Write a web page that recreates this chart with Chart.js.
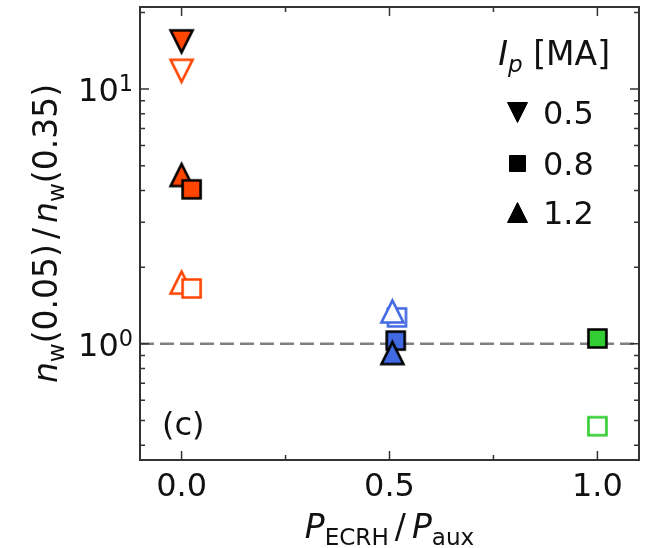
<!DOCTYPE html>
<html lang="en">
<head>
<meta charset="UTF-8">
<title>n_w ratio vs ECRH fraction</title>
<script src="https://cdn.jsdelivr.net/npm/chart.js"></script>
<style>
  html, body { margin: 0; padding: 0; background: #fff; }
  #wrap { width: 646px; height: 548px; }
</style>
</head>
<body>
<div id="wrap"><canvas id="ratioChart" width="646" height="548"></canvas></div>
<script>
// one entry per plotted point, later entries are drawn on top
const pEcrhFrac = [0.0, 0.0, 0.0, 0.024, 0.0, 0.024, 0.518, 0.507, 0.515, 0.507, 1.0, 1.0];
const nwRatio   = [15.4, 11.8, 4.6, 4.04, 1.74, 1.65, 1.27, 1.34, 1.03, 0.92, 1.05, 0.475];
const ipMA      = [0.5, 0.5, 1.2, 0.8, 1.2, 0.8, 0.8, 1.2, 0.8, 1.2, 0.8, 0.8];
const isFilled  = [true, false, true, true, false, false, false, false, true, true, true, false];

const ipLegend    = ['0.5', '0.8', '1.2'];
const xTicks      = [0.0, 0.5, 1.0];
const xTickLabels = ['0.0', '0.5', '1.0'];
const xMinorTicks = [0.25, 0.75];
const yTicks      = [1, 10];
const yTickExps   = ['0', '1'];

const FONT = '"DejaVu Sans"';
const EDGE = '#333';

function groupColor(f) {
    if (f < 0.25) return '#ff4500';
    if (f < 0.75) return '#4169e1';
    return '#32cd32';
}
function shapeFor(ip) {
    if (ip === 0.5) return 'down';
    if (ip === 0.8) return 'square';
    return 'up';
}

// small canvas used as a point style (matplotlib-like markers)
function makeMarker(shape, fill, stroke, half, lw) {
    const pad = 6;
    const size = Math.ceil(2 * half + lw + 2 * pad);
    const c = document.createElement('canvas');
    c.width = size; c.height = size;
    const g = c.getContext('2d');
    const m = size / 2;
    g.beginPath();
    if (shape === 'square') {
        g.rect(m - half, m - half, 2 * half, 2 * half);
    } else if (shape === 'up') {
        g.moveTo(m, m - half); g.lineTo(m + half, m + half); g.lineTo(m - half, m + half); g.closePath();
    } else {
        g.moveTo(m, m + half); g.lineTo(m + half, m - half); g.lineTo(m - half, m - half); g.closePath();
    }
    g.fillStyle = fill; g.fill();
    if (lw > 0) {
        g.lineJoin = 'miter'; g.lineWidth = lw; g.strokeStyle = stroke; g.stroke();
    }
    return c;
}

function fontOf(s, size) {
    const sz = (s.sub || s.sup) ? size * 0.7 : size;
    return (s.it ? 'italic ' : '') + sz.toFixed(1) + 'px ' + FONT;
}
function drawRich(ctx, segs, x, y, size, align) {
    ctx.textAlign = 'left';
    ctx.textBaseline = 'alphabetic';
    let w = 0;
    segs.forEach(s => {
        if (s.gap) { w += s.gap; return; }
        ctx.font = fontOf(s, size); w += ctx.measureText(s.t).width;
    });
    let cx = align === 'center' ? x - w / 2 : align === 'right' ? x - w : x;
    segs.forEach(s => {
        if (s.gap) { cx += s.gap; return; }
        ctx.font = fontOf(s, size);
        const dy = s.sub ? size * 0.2 : s.sup ? -size * 0.3 : 0;
        ctx.fillText(s.t, cx, y + dy);
        cx += ctx.measureText(s.t).width;
    });
}

const datasets = pEcrhFrac.map((f, i) => {
    const col = groupColor(f);
    const shape = shapeFor(ipMA[i]);
    const half = shape === 'square' ? 9 : 11;
    const style = isFilled[i]
        ? makeMarker(shape, col, '#000', half, 2.6)
        : makeMarker(shape, '#fff', col, half, 2.6);
    return {
        type: 'scatter',
        data: [{ x: f, y: nwRatio[i] }],
        pointStyle: style,
        pointRadius: 10,
        order: pEcrhFrac.length - i
    };
});

// reference line at ratio = 1
datasets.push({
    type: 'line',
    data: [{ x: -0.1, y: 1 }, { x: 1.1, y: 1 }],
    borderColor: '#808080',
    borderWidth: 2.5,
    borderDash: [14, 6],
    pointRadius: 0,
    order: 100
});

const decorations = {
    id: 'decorations',
    afterDraw(chart) {
        const { ctx, chartArea: a, scales: { x, y } } = chart;
        ctx.save();

        // inward ticks on all sides
        ctx.strokeStyle = EDGE;
        ctx.lineWidth = 1.5;
        const vTick = (px, len) => {
            ctx.beginPath();
            ctx.moveTo(px, a.bottom); ctx.lineTo(px, a.bottom - len);
            ctx.moveTo(px, a.top); ctx.lineTo(px, a.top + len);
            ctx.stroke();
        };
        const hTick = (py, len) => {
            ctx.beginPath();
            ctx.moveTo(a.left, py); ctx.lineTo(a.left + len, py);
            ctx.moveTo(a.right, py); ctx.lineTo(a.right - len, py);
            ctx.stroke();
        };
        xTicks.forEach(v => vTick(x.getPixelForValue(v), 9));
        xMinorTicks.forEach(v => vTick(x.getPixelForValue(v), 5));
        yTicks.forEach(v => hTick(y.getPixelForValue(v), 9));
        for (let e = -1; e <= 1; e++) {
            for (let m = 2; m <= 9; m++) {
                const v = m * Math.pow(10, e);
                if (v > y.min && v < y.max) hTick(y.getPixelForValue(v), 5);
            }
        }

        // frame
        ctx.lineWidth = 2;
        ctx.strokeRect(a.left, a.top, a.right - a.left, a.bottom - a.top);

        ctx.fillStyle = '#111';
        // x tick labels
        xTicks.forEach((v, i) => {
            drawRich(ctx, [{ t: xTickLabels[i] }], x.getPixelForValue(v), a.bottom + 36, 32, 'center');
        });
        // y tick labels
        yTicks.forEach((v, i) => {
            drawRich(ctx, [{ t: '10' }, { t: yTickExps[i], sup: true }], a.left - 7, y.getPixelForValue(v) + 12, 32, 'right');
        });

        // axis titles
        drawRich(ctx, [
            { t: 'P', it: true }, { t: 'ECRH', sub: true }, { gap: 6 }, { t: '/' }, { gap: 6 },
            { t: 'P', it: true }, { t: 'aux', sub: true }
        ], (a.left + a.right) / 2, 538, 33, 'center');

        ctx.save();
        ctx.translate(57, (a.top + a.bottom) / 2);
        ctx.rotate(-Math.PI / 2);
        drawRich(ctx, [
            { t: 'n', it: true }, { t: 'w', sub: true }, { t: '(0.05)' }, { gap: 5 }, { t: '/' }, { gap: 5 },
            { t: 'n', it: true }, { t: 'w', sub: true }, { t: '(0.35)' }
        ], 0, 0, 33, 'center');
        ctx.restore();

        // panel label
        drawRich(ctx, [{ t: '(c)' }], 162, 435, 32, 'left');

        // legend for plasma current
        drawRich(ctx, [{ t: 'I', it: true }, { t: 'p', it: true, sub: true }, { t: ' [MA]' }], 610, 65, 33, 'right');
        const legShapes = ['down', 'square', 'up'];
        const legY = [112, 163, 212];
        ipLegend.forEach((lab, i) => {
            const mk = makeMarker(legShapes[i], '#000', '#000', legShapes[i] === 'square' ? 8 : 10, 1);
            ctx.drawImage(mk, Math.round(517 - mk.width / 2), Math.round(legY[i] - mk.height / 2));
            drawRich(ctx, [{ t: lab }], 543, legY[i] + 12, 32, 'left');
        });

        ctx.restore();
    }
};

new Chart(document.getElementById('ratioChart'), {
    type: 'scatter',
    data: { datasets },
    options: {
        responsive: false,
        animation: false,
        layout: { autoPadding: false, padding: { left: 0, top: 7, right: 7, bottom: 0 } },
        plugins: { legend: { display: false }, tooltip: { enabled: false } },
        scales: {
            x: {
                type: 'linear', min: -0.1, max: 1.1,
                grid: { display: false },
                border: { display: false },
                ticks: { display: false },
                afterFit(s) { s.height = 88; }
            },
            y: {
                type: 'logarithmic', min: 0.35, max: 21,
                grid: { display: false },
                border: { display: false },
                ticks: { display: false },
                afterFit(s) { s.width = 140; }
            }
        }
    },
    plugins: [decorations]
});
</script>
</body>
</html>
